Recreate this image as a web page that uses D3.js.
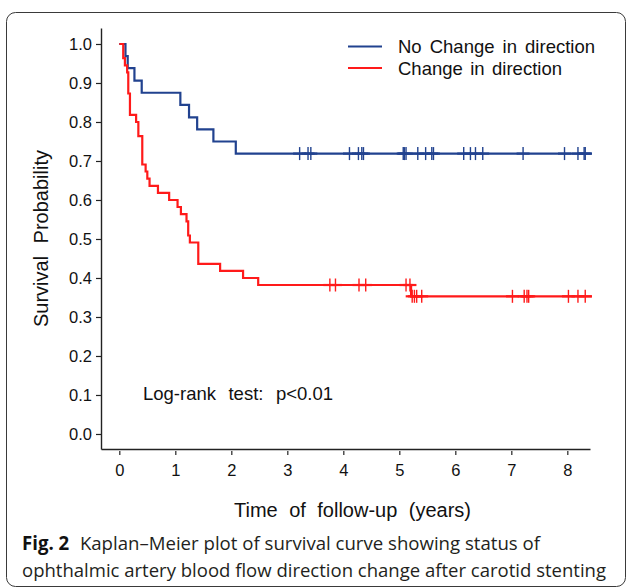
<!DOCTYPE html>
<html>
<head>
<meta charset="utf-8">
<script src="https://cdn.jsdelivr.net/npm/d3@7"></script>
<style>
  body { margin: 0; background: #fff; }
  svg { display: block; }
</style>
</head>
<body>
<svg id="chart" width="627" height="588"></svg>
<script>
// ---------------- DATA ----------------
const seriesNames = ["No Change in direction", "Change in direction"];

// No Change in direction: event times (years) and survival after each step
const blueTimes    = [0, 0.11, 0.15, 0.27, 0.40, 1.09, 1.245, 1.39, 1.68, 2.08, 8.44];
const blueSurvival = [1.0, 0.969, 0.938, 0.906, 0.875, 0.844, 0.812, 0.781, 0.750, 0.719, 0.719];
const blueCensor   = [3.22, 3.37, 3.42, 4.11, 4.27, 4.33, 4.36, 5.07, 5.09, 5.12, 5.33, 5.47,
                      5.58, 5.61, 6.15, 6.27, 6.36, 6.49, 7.21, 7.95, 8.19, 8.30, 8.32];

// Change in direction
const redTimes    = [0, 0.07, 0.10, 0.14, 0.16, 0.19, 0.30, 0.34, 0.41, 0.47, 0.50, 0.54, 0.69,
                     0.89, 1.04, 1.10, 1.20, 1.23, 1.26, 1.41, 1.80, 2.21, 2.48, 5.21, 8.44];
const redSurvival = [1.0, 0.964, 0.945, 0.927, 0.873, 0.818, 0.800, 0.764, 0.691, 0.673, 0.655,
                     0.636, 0.618, 0.600, 0.582, 0.564, 0.545, 0.509, 0.491, 0.436, 0.418, 0.400,
                     0.382, 0.353, 0.353];
const redCensorHigh = [3.76, 3.86, 4.28, 4.40, 5.12, 5.19];   // at 0.382
const redCensorLow  = [5.23, 5.27, 5.31, 5.40, 7.02, 7.23, 7.28, 7.31, 8.02, 8.19, 8.32]; // at 0.353

const xTicks = [0, 1, 2, 3, 4, 5, 6, 7, 8];
const yTicks = [0.0, 0.1, 0.2, 0.3, 0.4, 0.5, 0.6, 0.7, 0.8, 0.9, 1.0];

const xLabel = "Time of follow-up (years)";
const yLabel = "Survival Probability";
const testLabel = "Log-rank test: p<0.01";
const captionBold = "Fig. 2";
const captionLine1 = "Kaplan\u2013Meier plot of survival curve showing status of";
const captionLine2 = "ophthalmic artery blood flow direction change after carotid stenting";

// ---------------- DRAWING ----------------
const svg = d3.select("#chart");
const BLUE = "#21428f", RED = "#ff1a1a", INK = "#222";
const FONT = "Liberation Sans, Arial, sans-serif";

// rounded frame
svg.append("rect")
  .attr("x", 6.5).attr("y", 12.5).attr("width", 619).attr("height", 574)
  .attr("rx", 9).attr("fill", "none").attr("stroke", "#3a3a3a").attr("stroke-width", 1);

const x = d3.scaleLinear().domain([-0.327, 8.405]).range([101, 590]);
const y = d3.scaleLinear().domain([-0.0385, 1.041]).range([449, 28]);

// axes
const xAxis = svg.append("g").attr("transform", "translate(0,449)")
  .call(d3.axisBottom(x).tickValues(xTicks).tickFormat(d3.format("d")).tickSize(5).tickPadding(10).tickSizeOuter(0));
const yAxis = svg.append("g").attr("transform", "translate(101,0)")
  .call(d3.axisLeft(y).tickValues(yTicks).tickFormat(d3.format(".1f")).tickSize(5).tickPadding(4).tickSizeOuter(0));
[xAxis, yAxis].forEach(g => {
  g.select(".domain").attr("stroke", INK).attr("stroke-width", 1.4);
  g.selectAll(".tick line").attr("stroke", INK).attr("stroke-width", 1.2);
  g.selectAll(".tick text").attr("fill", "#111").style("font-family", FONT).style("font-size", "16.5px");
});
xAxis.selectAll(".tick line").attr("y1", 2).attr("y2", 6);

// step curves
const step = d3.line().x(d => x(d[0])).y(d => y(d[1])).curve(d3.curveStepAfter);
function drawCurve(times, surv, color) {
  svg.append("path").datum(times.map((t, i) => [t, surv[i]]))
    .attr("d", step).attr("fill", "none").attr("stroke", color)
    .attr("stroke-width", 2.2).attr("stroke-linejoin", "miter");
}
function drawCensor(times, s, color) {
  const g = svg.append("g").attr("stroke", color).attr("stroke-width", 1.4);
  g.selectAll("line.v").data(times).join("line")
    .attr("x1", d => x(d)).attr("x2", d => x(d))
    .attr("y1", y(s) - 6.5).attr("y2", y(s) + 6.5);
  g.selectAll("line.h").data(times).join("line")
    .attr("x1", d => x(d) - 6.5).attr("x2", d => x(d) + 6.5)
    .attr("y1", y(s)).attr("y2", y(s)).attr("stroke-width", 2.2);
}
drawCurve(blueTimes, blueSurvival, BLUE);
drawCurve(redTimes, redSurvival, RED);
drawCensor(blueCensor, blueSurvival[blueSurvival.length - 1], BLUE);
drawCensor(redCensorHigh, 0.382, RED);
drawCensor(redCensorLow, 0.353, RED);

// text helper: fit width by adjusting word spacing
function fitWords(sel, target) {
  const n = (sel.text().match(/ /g) || []).length;
  const w = sel.node().getComputedTextLength();
  if (n > 0) sel.style("word-spacing", Math.max(0, (target - w) / n) + "px");
}

// legend
const legendY = [46.5, 68];
const legendColors = [BLUE, RED];
const legendW = [197, 164];
seriesNames.forEach((name, i) => {
  svg.append("line").attr("x1", 348).attr("x2", 382)
    .attr("y1", legendY[i]).attr("y2", legendY[i])
    .attr("stroke", legendColors[i]).attr("stroke-width", 2.2);
  const t = svg.append("text").attr("x", 398).attr("y", legendY[i] + 6.5)
    .style("font-family", FONT).style("font-size", "18.5px").attr("fill", "#111").text(name);
  fitWords(t, legendW[i]);
});

// log-rank
const lr = svg.append("text").attr("x", 143).attr("y", 400)
  .style("font-family", FONT).style("font-size", "18.5px").attr("fill", "#111").text(testLabel);
fitWords(lr, 190);

// axis titles
const xt = svg.append("text").attr("x", 352.5).attr("y", 517).attr("text-anchor", "middle")
  .style("font-family", FONT).style("font-size", "20px").attr("fill", "#111").text(xLabel);
fitWords(xt, 237);
const yt = svg.append("text").attr("transform", "translate(48,238.5) rotate(-90)").attr("text-anchor", "middle")
  .style("font-family", FONT).style("font-size", "20px").attr("fill", "#111").text(yLabel);
fitWords(yt, 177);

// caption
const CAP = "Open Sans, Noto Sans, sans-serif";
const c1 = svg.append("text").attr("x", 22).attr("y", 550)
  .style("font-family", CAP).style("font-size", "19px").attr("fill", "#231f20");
c1.append("tspan").style("font-weight", "bold").attr("fill", "#111").text(captionBold);
c1.append("tspan").attr("dx", 6).text(" " + captionLine1);
c1.attr("textLength", 518).attr("lengthAdjust", "spacingAndGlyphs");
svg.append("text").attr("x", 22).attr("y", 577)
  .style("font-family", CAP).style("font-size", "19px").attr("fill", "#231f20")
  .attr("textLength", 584).attr("lengthAdjust", "spacingAndGlyphs")
  .text(captionLine2);
</script>
</body>
</html>
